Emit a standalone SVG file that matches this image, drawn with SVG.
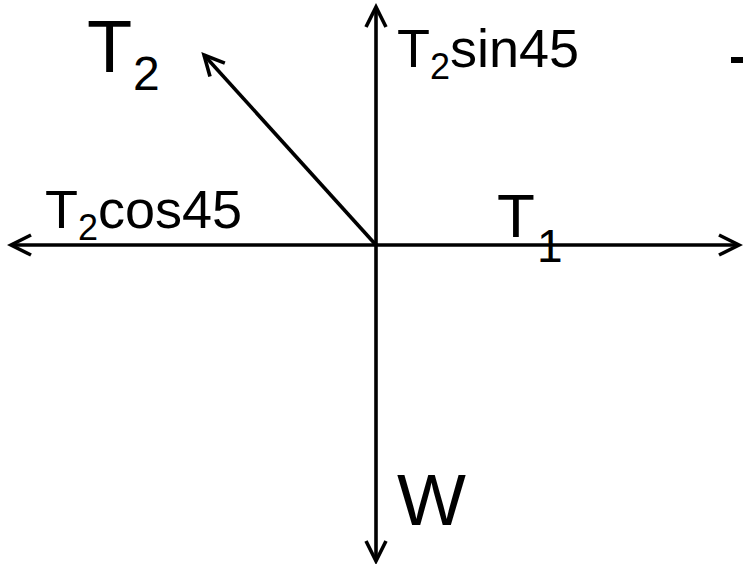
<svg xmlns="http://www.w3.org/2000/svg" width="743" height="564" viewBox="0 0 743 564">
<style>
.ln{stroke:#000;stroke-width:3.6;fill:none;marker-end:url(#ah)}
.both{marker-start:url(#ah)}
text{font-family:"Liberation Sans",Arial,sans-serif;fill:#000}
</style>
<defs>
<marker id="ah" markerUnits="userSpaceOnUse" viewBox="-24 -13 28 26" markerWidth="28" markerHeight="26" refX="0" refY="0" orient="auto-start-reverse">
<path d="M-20,-10 L0,0 L-20,10" fill="none" stroke="#000" stroke-width="3.6"/>
</marker>
</defs>
<rect width="743" height="564" fill="#fff"/>
<g id="connectors">
<line class="ln both" x1="376" y1="561" x2="376" y2="7"/>
<line class="ln both" x1="11" y1="245" x2="739" y2="245"/>
<line class="ln" x1="376" y1="245" x2="204" y2="55"/>
</g>
<g id="label-T2"><text x="87" y="72" font-size="74">T</text><text x="133" y="90" font-size="48">2</text></g>
<g id="label-T2sin45"><text x="397" y="67" font-size="54">T</text><text x="430" y="79" font-size="36">2</text><text x="450" y="67" font-size="54">sin45</text></g>
<g id="label-T2cos45"><text x="45" y="228" font-size="54">T</text><text x="78" y="240" font-size="36">2</text><text x="98" y="228" font-size="54">cos45</text></g>
<g id="label-T1"><text x="497" y="237" font-size="62">T</text><text x="537" y="262" font-size="46">1</text></g>
<g id="label-W"><text x="397" y="525" font-size="73">W</text></g>
<rect x="731" y="57" width="12" height="6" fill="#000"/>
</svg>
